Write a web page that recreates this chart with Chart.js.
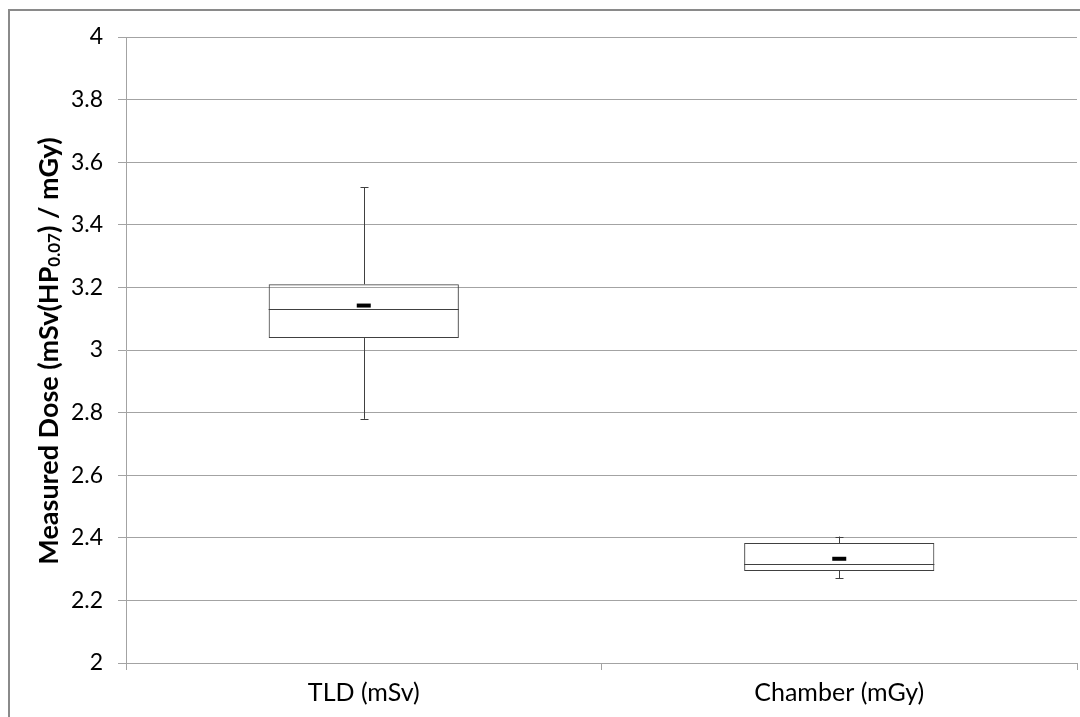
<!DOCTYPE html>
<html>
<head>
<meta charset="utf-8">
<title>Measured Dose</title>
<script src="https://cdn.jsdelivr.net/npm/chart.js@4/dist/chart.umd.min.js"></script>
<style>
  html, body { margin: 0; padding: 0; background: #fff; overflow: hidden; }
  .chart-wrap { position: relative; width: 1080px; height: 717px; }
  #dose-chart { display: block; }
</style>
</head>
<body>
<div class="chart-wrap">
  <canvas id="dose-chart" width="1080" height="717"></canvas>
</div>
<script>
const categories = ["TLD (mSv)", "Chamber (mGy)"];
const minValues = [2.78, 2.27];
const q1Values = [3.038, 2.294];
const medianValues = [3.13, 2.315];
const q3Values = [3.21, 2.383];
const maxValues = [3.52, 2.404];
const meanValues = [3.142, 2.333];
const yTicks = [2, 2.2, 2.4, 2.6, 2.8, 3, 3.2, 3.4, 3.6, 3.8, 4];

const fontFamily = "Lato, 'Open Sans', sans-serif";
const gridColor = "#a3a3a3";
const boxColor = "#404040";

// frame around the chart (left and top edges only show)
const framePlugin = {
  id: "frame",
  beforeDraw(chart) {
    const ctx = chart.ctx;
    ctx.save();
    ctx.strokeStyle = "#8a8a8a";
    ctx.lineWidth = 2;
    ctx.beginPath();
    ctx.moveTo(9, 717);
    ctx.lineTo(9, 10);
    ctx.lineTo(1080, 10);
    ctx.stroke();
    ctx.restore();
  },
};

// whiskers and median lines for each box
const whiskerPlugin = {
  id: "whiskers",
  afterDatasetsDraw(chart) {
    const ctx = chart.ctx;
    const x = chart.scales.x;
    const y = chart.scales.y;
    ctx.save();
    ctx.strokeStyle = boxColor;
    ctx.lineWidth = 1;
    categories.forEach((cat, i) => {
      const cx = Math.round(x.getPixelForValue(i)) + 0.5;
      const yMin = y.getPixelForValue(minValues[i]);
      const yMax = y.getPixelForValue(maxValues[i]);
      const yQ1 = y.getPixelForValue(q1Values[i]);
      const yQ3 = y.getPixelForValue(q3Values[i]);
      const yMed = Math.round(y.getPixelForValue(medianValues[i])) + 0.5;
      const meta = chart.getDatasetMeta(0).data[i];
      const half = meta.width / 2;
      ctx.beginPath();
      ctx.moveTo(cx, yMax);
      ctx.lineTo(cx, yQ3);
      ctx.moveTo(cx, yQ1);
      ctx.lineTo(cx, yMin);
      ctx.moveTo(cx - 4, Math.round(yMax) + 0.5);
      ctx.lineTo(cx + 4, Math.round(yMax) + 0.5);
      ctx.moveTo(cx - 4, Math.round(yMin) + 0.5);
      ctx.lineTo(cx + 4, Math.round(yMin) + 0.5);
      ctx.moveTo(meta.x - half, yMed);
      ctx.lineTo(meta.x + half, yMed);
      ctx.stroke();
    });
    ctx.restore();
  },
};

// rotated y axis title with subscript
const yTitlePlugin = {
  id: "yTitle",
  afterDraw(chart) {
    const ctx = chart.ctx;
    const area = chart.chartArea;
    const parts = [
      { text: "Measured Dose (mSv(HP", size: 27, shift: 0 },
      { text: "0.07", size: 17, shift: 6 },
      { text: ") / mGy)", size: 27, shift: 0 },
    ];
    ctx.save();
    let total = 0;
    parts.forEach((p) => {
      ctx.font = `bold ${p.size}px ${fontFamily}`;
      p.w = ctx.measureText(p.text).width;
      total += p.w;
    });
    ctx.translate(49, (area.top + area.bottom) / 2 + 1);
    ctx.rotate(-Math.PI / 2);
    ctx.fillStyle = "#000";
    ctx.textBaseline = "middle";
    let pos = -total / 2;
    parts.forEach((p) => {
      ctx.font = `bold ${p.size}px ${fontFamily}`;
      ctx.fillText(p.text, pos, p.shift);
      pos += p.w;
    });
    ctx.restore();
  },
};

const ctx = document.getElementById("dose-chart");
new Chart(ctx, {
  data: {
    labels: categories,
    datasets: [
      {
        type: "bar",
        label: "Box",
        data: categories.map((c, i) => [q1Values[i], q3Values[i]]),
        backgroundColor: "rgba(0,0,0,0)",
        borderColor: boxColor,
        borderWidth: 1,
        borderSkipped: false,
        barPercentage: 0.4,
        categoryPercentage: 1,
      },
      {
        type: "line",
        label: "Mean",
        data: meanValues,
        showLine: false,
        pointStyle: "line",
        pointRadius: 7,
        pointBorderWidth: 4,
        borderColor: "#000",
        backgroundColor: "#000",
      },
    ],
  },
  options: {
    responsive: false,
    animation: false,
    layout: {
      autoPadding: false,
      padding: { top: 37, right: 3, left: 0, bottom: 0 },
    },
    plugins: {
      legend: { display: false },
      tooltip: { enabled: false },
    },
    scales: {
      x: {
        offset: true,
        grid: {
          offset: true,
          drawOnChartArea: false,
          drawTicks: true,
          tickLength: 7,
          color: gridColor,
        },
        border: { color: gridColor },
        ticks: {
          color: "#000",
          font: { family: fontFamily, size: 25 },
          padding: 8,
        },
        afterFit(scale) {
          scale.height = 54;
        },
      },
      y: {
        min: 2,
        max: 4,
        afterBuildTicks(scale) {
          scale.ticks = yTicks.map((v) => ({ value: v }));
        },
        grid: {
          color: gridColor,
          tickLength: 8,
        },
        border: { color: gridColor },
        ticks: {
          color: "#000",
          font: { family: fontFamily, size: 23 },
          padding: 15,
          callback: (v) => String(Number(v.toFixed(1))),
        },
        afterFit(scale) {
          scale.width = 126;
        },
      },
    },
  },
  plugins: [framePlugin, whiskerPlugin, yTitlePlugin],
});
</script>
</body>
</html>
